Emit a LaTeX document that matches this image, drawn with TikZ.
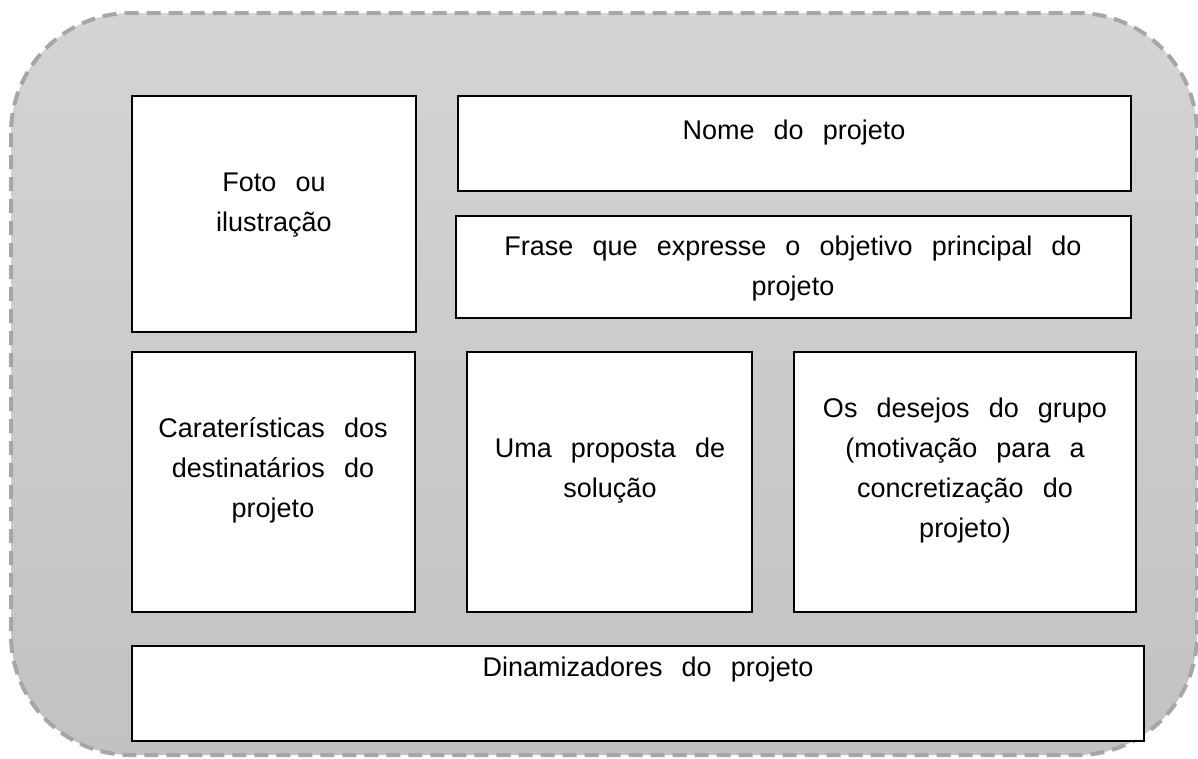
\documentclass[tikz,border=0pt]{standalone}
\usepackage{fontspec}
\setmainfont{Liberation Sans}[WordSpace={2.55,0,0}]
\definecolor{bgtop}{RGB}{212,212,212}
\definecolor{bgbot}{RGB}{194,194,194}
\definecolor{dashgray}{RGB}{166,166,166}
\begin{document}
\begin{tikzpicture}[x=1pt,y=-1pt,
  card/.style={draw=black, line width=2.6pt, fill=white, inner sep=0pt, outer sep=0pt, anchor=north west},
  lbl/.style={align=center, inner sep=0pt, font=\fontsize{27}{40}\selectfont}]
\useasboundingbox (0,0) rectangle (1198,758);
\path[top color=bgtop, bottom color=bgbot, rounded corners=120pt] (11,13) rectangle (1197,755);
\draw[dashgray, line width=4pt, dash pattern=on 14pt off 8pt, rounded corners=120pt] (11,13) rectangle (1197,755);
% boxes
\node[card, minimum width=284pt, minimum height=236pt] (foto) at (132,96) {};
\node[card, minimum width=673pt, minimum height=95pt] (nome) at (458,96) {};
\node[card, minimum width=675pt, minimum height=102pt] (frase) at (456,216) {};
\node[card, minimum width=283pt, minimum height=260pt] (carac) at (132,352) {};
\node[card, minimum width=285pt, minimum height=260pt] (uma) at (467,352) {};
\node[card, minimum width=342pt, minimum height=260pt] (desejos) at (794,352) {};
\node[card, minimum width=1012pt, minimum height=95pt] (dinam) at (132,646) {};
% texts
\node[lbl] (tfoto) at (274,205.5) {Foto ou\\ilustração};
\node[lbl] (tnome) at (794,132.5) {Nome do projeto};
\node[lbl] (tfrase) at (793,268.5) {Frase que expresse o objetivo principal do\\projeto};
\node[lbl] (tcarac) at (273,470) {Caraterísticas dos\\destinatários do\\projeto};
\node[lbl] (tuma) at (610,470.5) {Uma proposta de\\solução};
\node[lbl] (tdesejos) at (965,470.5) {Os desejos do grupo\\(motivação para a\\concretização do\\projeto)};
\node[lbl] (tdinam) at (648,669.5) {Dinamizadores do projeto};
\end{tikzpicture}
\end{document}
